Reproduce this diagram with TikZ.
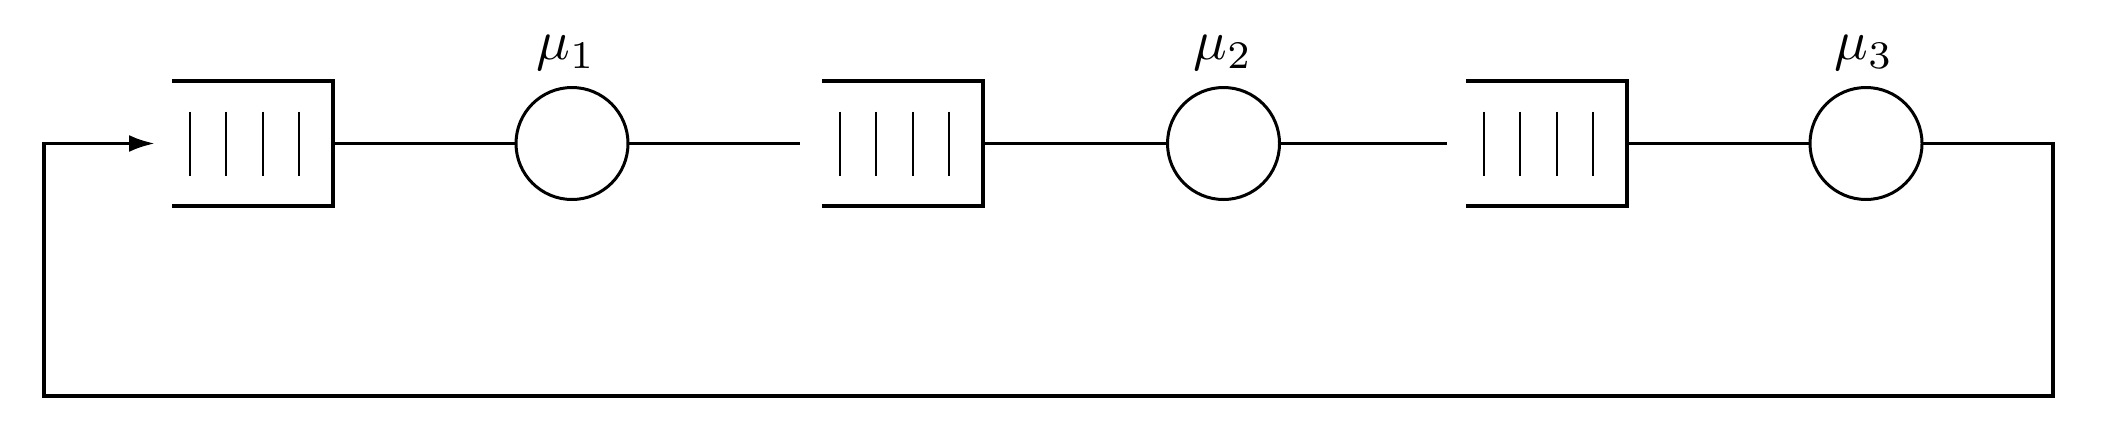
\documentclass[tikz,border=0pt]{standalone}
\usetikzlibrary{arrows.meta}
\begin{document}
\begin{tikzpicture}[x=0.5pt,y=-0.5pt,
  wire/.style={line width=1.8pt},
  qbox/.style={minimum width=80.5pt,minimum height=62.5pt,inner sep=0pt,outer sep=0pt},
  server/.style={circle,draw,line width=1.5pt,minimum size=56pt,inner sep=0pt,outer sep=0pt},
  rate/.style={scale=2.8,inner sep=0pt},
  bar/.style={line width=1.2pt}]
\useasboundingbox (0,0) rectangle (2112,434);
% queues (invisible frames) and servers
\node[qbox] (q1) at (252.5,143.5) {};
\node[qbox] (q2) at (902.5,143.5) {};
\node[qbox] (q3) at (1546.5,143.5) {};
\node[server] (c1) at (572,143.5) {};
\node[server] (c2) at (1223.5,143.5) {};
\node[server] (c3) at (1866,143.5) {};
\node[rate] (m1) at (566,53) {$\mu_1$};
\node[rate] (m2) at (1223,53) {$\mu_2$};
\node[rate] (m3) at (1864,53) {$\mu_3$};
% queue outlines and bars
\foreach \q in {q1,q2,q3}{
  \draw[wire] (\q.north west) -- (\q.north east) -- (\q.south east) -- (\q.south west);
  \foreach \dx in {18,54,91,127}{
    \draw[bar] ([xshift=\dx*0.5pt,yshift=-15.25pt]\q.north west) -- ([xshift=\dx*0.5pt,yshift=15.25pt]\q.south west);
  }
}
% coordinates
\coordinate (e1) at (800,143.5);
\coordinate (e2) at (1447,143.5);
\coordinate (r1) at (2053,143.5);
\coordinate (r2) at (2053,396);
\coordinate (l1) at (44,396);
\coordinate (l2) at (44,143.5);
\coordinate (tip) at (155,143.5);
% connectors
\draw[wire] (q1.east) -- (c1.west);
\draw[wire] (c1.east) -- (e1);
\draw[wire] (q2.east) -- (c2.west);
\draw[wire] (c2.east) -- (e2);
\draw[wire] (q3.east) -- (c3.west);
\draw[wire,-{Latex[length=13pt,width=8.5pt]}] (c3.east) -- (r1) -- (r2) -- (l1) -- (l2) -- (tip);
\end{tikzpicture}
\end{document}
